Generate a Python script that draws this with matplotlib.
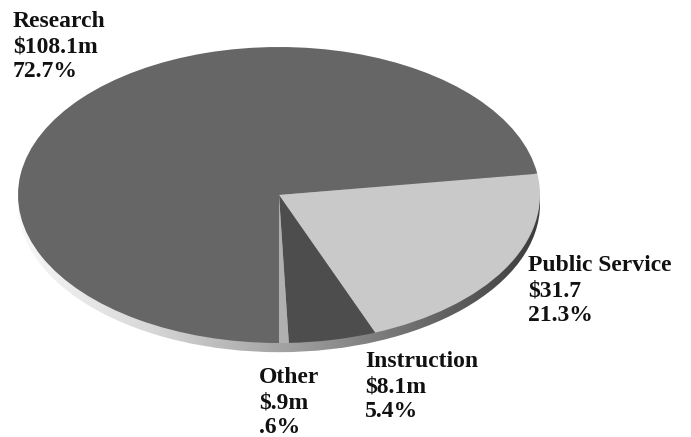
import numpy as np
import matplotlib
matplotlib.use('Agg')
import matplotlib.pyplot as plt
from matplotlib.patches import Ellipse
from matplotlib.colors import LinearSegmentedColormap

categories = ['Research', 'Public Service', 'Instruction', 'Other']
amounts = ['$108.1m', '$31.7', '$8.1m', '$.9m']
percents = [72.7, 21.3, 5.4, 0.6]
pct_labels = ['72.7%', '21.3%', '5.4%', '.6%']
colors = ['#666666', '#c9c9c9', '#4d4d4d', '#b0b0b0']

fig = plt.figure(figsize=(6.91, 4.37), dpi=100)
ax = fig.add_axes([0, 0, 1, 1])

# pie is stretched into an ellipse by the axis limits (261 px wide radius, 148 px tall)
cx, cy, rx, ry = 279, 195, 261, 148

# side rim: shifted ellipse filled with a gradient, sitting under the pie
rim = Ellipse((0.0, -0.062), 2.0, 2.0, facecolor='none', edgecolor='none')
ax.add_patch(rim)
cmap = LinearSegmentedColormap.from_list('rim', ['#f8f8f8', '#d8d8d8', '#a4a4a4', '#707070', '#3c3c3c'])
grad = np.linspace(0, 1, 256).reshape(1, -1)
im = ax.imshow(grad, extent=[-1.0, 1.0, -1.1, 0.2], cmap=cmap, aspect='auto', zorder=1)
im.set_clip_path(rim)

ax.pie(percents, colors=colors, startangle=-90, counterclock=False,
       radius=1.0, center=(0, 0), frame=True,
       wedgeprops=dict(linewidth=0, zorder=2))
ax.set_aspect('auto')
ax.set_xlim(-cx / rx, (691 - cx) / rx)
ax.set_ylim((cy - 437) / ry, cy / ry)
ax.axis('off')

label_pos = [(13, 11), (528, 255), (365, 351), (259, 367)]
for (px, py), name, amt, pct in zip(label_pos, categories, amounts, pct_labels):
    fig.text(px / 691, 1 - py / 437, f'{name}\n{amt}\n{pct}',
             ha='left', va='top', fontsize=17, fontweight='bold',
             family='Liberation Serif', linespacing=1.25, color='#111111')

fig.savefig('out.png', dpi=100)
